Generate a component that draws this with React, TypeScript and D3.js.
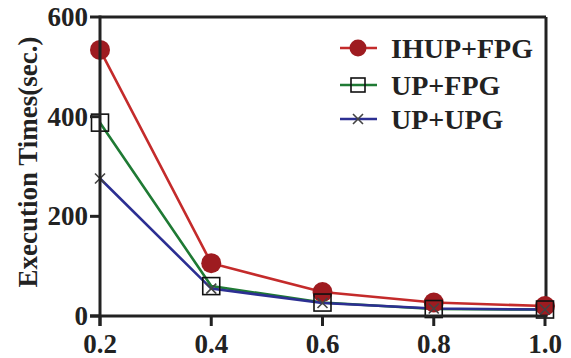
import * as d3 from 'd3';

const supports = [0.2, 0.4, 0.6, 0.8, 1.0];
const ihupFpg = [534, 106, 48, 27, 20];
const upFpg = [388, 60, 27, 14, 13];
const upUpg = [276, 55, 26, 15, 13];
const yTicks = [0, 200, 400, 600];
const xTickLabels = ['0.2', '0.4', '0.6', '0.8', '1.0'];

const SERIES = [
    { name: 'IHUP+FPG', values: ihupFpg, color: '#c42b2b', marker: 'circle' },
    { name: 'UP+FPG', values: upFpg, color: '#1f7a34', marker: 'square' },
    { name: 'UP+UPG', values: upUpg, color: '#2c2f92', marker: 'cross' },
];

const FONT = '"Liberation Serif", "Times New Roman", serif';

function Marker({ type, x, y, small }: { type: string; x: number; y: number; small?: boolean }) {
    if (type === 'circle') {
        return <circle cx={x} cy={y} r={small ? 8.5 : 10} fill="#9e1b20" />;
    }
    if (type === 'square') {
        const s = small ? 14 : 17;
        return <rect x={x - s / 2} y={y - s / 2} width={s} height={s} fill="none" stroke="#111" strokeWidth={1.6} />;
    }
    const c = 5;
    return (
        <path d={`M${x - c},${y - c}L${x + c},${y + c}M${x - c},${y + c}L${x + c},${y - c}`} stroke="#444" strokeWidth={1.6} />
    );
}

export default function App() {
    const width = 571;
    const height = 358;
    const x = d3.scaleLinear().domain([0.2, 1.0]).range([100, 545]);
    const y = d3.scaleLinear().domain([0, 600]).range([316, 17]);

    const line = d3.line<number>()
        .x((_, i) => x(supports[i]))
        .y(d => y(d));

    const legendY = [48, 85, 119];

    return (
        <svg width={width} height={height} style={{ position: 'absolute', left: 0, top: 0 }} fontFamily={FONT}>
            <rect width={width} height={height} fill="#fff" />

            {/* frame */}
            <line x1={x(0.2)} x2={546} y1={y(600)} y2={y(600)} stroke="#222" strokeWidth={3} />
            <line x1={546} x2={546} y1={y(600)} y2={y(0)} stroke="#222" strokeWidth={3} />

            {/* lines */}
            {SERIES.map(s => (
                <path key={s.name} d={line(s.values) || ''} fill="none" stroke={s.color} strokeWidth={2.6} />
            ))}

            {/* markers */}
            {SERIES.map(s => s.values.map((v, i) => (
                <Marker key={s.name + i} type={s.marker} x={x(supports[i])} y={y(v)} />
            )))}

            {/* y axis */}
            <line x1={x(0.2)} x2={x(0.2)} y1={y(600) - 1.5} y2={y(0) + 10} stroke="#222" strokeWidth={3} />
            {yTicks.map(t => (
                <g key={t}>
                    <line x1={x(0.2) - 10} x2={x(0.2)} y1={y(t)} y2={y(t)} stroke="#222" strokeWidth={3} />
                    <text x={x(0.2) - 12} y={y(t) + 9} textAnchor="end" fontSize={27} fontWeight="bold" fill="#222">{t}</text>
                </g>
            ))}

            {/* x axis */}
            <line x1={x(0.2) - 10} x2={547.5} y1={y(0)} y2={y(0)} stroke="#222" strokeWidth={3} />
            {supports.map((s, i) => (
                <g key={s}>
                    <line x1={x(s)} x2={x(s)} y1={y(0)} y2={y(0) + 10} stroke="#222" strokeWidth={3} />
                    <text x={x(s)} y={353} textAnchor="middle" fontSize={27} fontWeight="bold" fill="#222">{xTickLabels[i]}</text>
                </g>
            ))}

            <text transform="translate(37,162) rotate(-90)" textAnchor="middle" fontSize={27} fontWeight="bold" fill="#222">
                Execution Times(sec.)
            </text>

            {/* legend */}
            {SERIES.map((s, i) => (
                <g key={s.name}>
                    <line x1={340} x2={377} y1={legendY[i]} y2={legendY[i]} stroke={s.color} strokeWidth={2.6} />
                    <Marker type={s.marker} x={358} y={legendY[i]} small />
                    <text x={391} y={legendY[i] + 10} fontSize={28} fontWeight="bold" fill="#222">{s.name}</text>
                </g>
            ))}
        </svg>
    );
}
